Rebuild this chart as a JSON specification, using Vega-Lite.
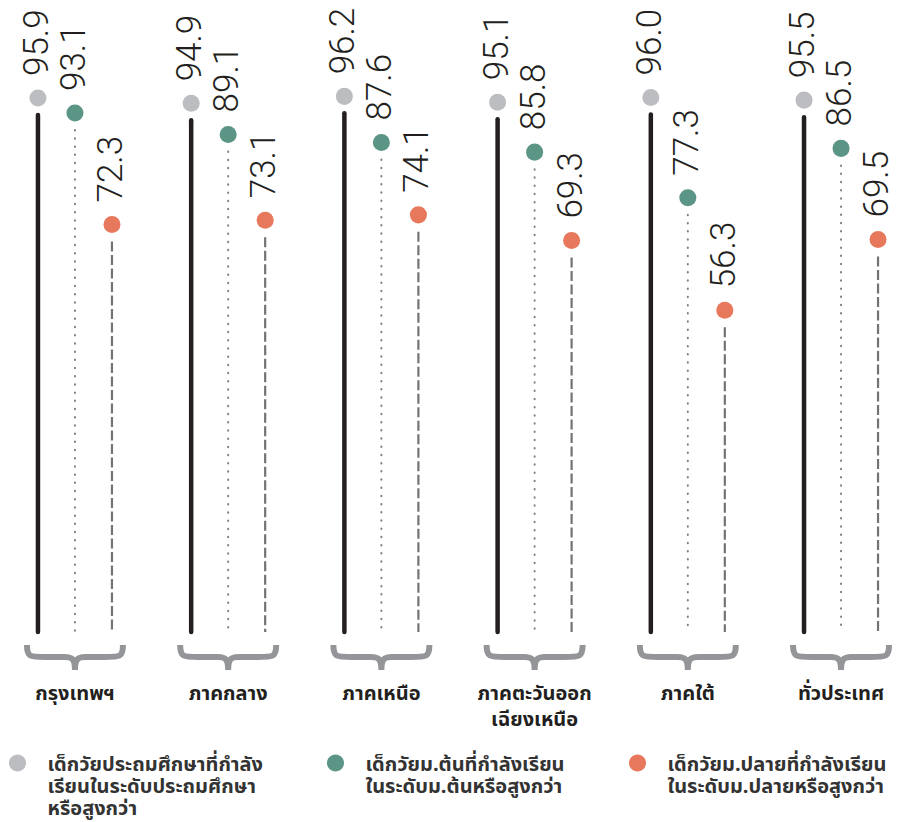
{
  "$schema": "https://vega.github.io/schema/vega-lite/v6.json",
  "width": 916,
  "height": 556,
  "autosize": {"type": "none"},
  "padding": {"left": 0, "top": 76, "right": 0, "bottom": 190},
  "background": "white",
  "config": {
    "view": {"stroke": null},
    "style": {"guide-label": {"lineHeight": 22}}
  },
  "data": {
    "values": [
      {"region": "กรุงเทพฯ", "series": "เด็กวัยประถมศึกษาที่กำลัง เรียนในระดับประถมศึกษา หรือสูงกว่า", "value": 95.9},
      {"region": "กรุงเทพฯ", "series": "เด็กวัยม.ต้นที่กำลังเรียน ในระดับม.ต้นหรือสูงกว่า", "value": 93.1},
      {"region": "กรุงเทพฯ", "series": "เด็กวัยม.ปลายที่กำลังเรียน ในระดับม.ปลายหรือสูงกว่า", "value": 72.3},
      {"region": "ภาคกลาง", "series": "เด็กวัยประถมศึกษาที่กำลัง เรียนในระดับประถมศึกษา หรือสูงกว่า", "value": 94.9},
      {"region": "ภาคกลาง", "series": "เด็กวัยม.ต้นที่กำลังเรียน ในระดับม.ต้นหรือสูงกว่า", "value": 89.1},
      {"region": "ภาคกลาง", "series": "เด็กวัยม.ปลายที่กำลังเรียน ในระดับม.ปลายหรือสูงกว่า", "value": 73.1},
      {"region": "ภาคเหนือ", "series": "เด็กวัยประถมศึกษาที่กำลัง เรียนในระดับประถมศึกษา หรือสูงกว่า", "value": 96.2},
      {"region": "ภาคเหนือ", "series": "เด็กวัยม.ต้นที่กำลังเรียน ในระดับม.ต้นหรือสูงกว่า", "value": 87.6},
      {"region": "ภาคเหนือ", "series": "เด็กวัยม.ปลายที่กำลังเรียน ในระดับม.ปลายหรือสูงกว่า", "value": 74.1},
      {"region": "ภาคตะวันออก เฉียงเหนือ", "series": "เด็กวัยประถมศึกษาที่กำลัง เรียนในระดับประถมศึกษา หรือสูงกว่า", "value": 95.1},
      {"region": "ภาคตะวันออก เฉียงเหนือ", "series": "เด็กวัยม.ต้นที่กำลังเรียน ในระดับม.ต้นหรือสูงกว่า", "value": 85.8},
      {"region": "ภาคตะวันออก เฉียงเหนือ", "series": "เด็กวัยม.ปลายที่กำลังเรียน ในระดับม.ปลายหรือสูงกว่า", "value": 69.3},
      {"region": "ภาคใต้", "series": "เด็กวัยประถมศึกษาที่กำลัง เรียนในระดับประถมศึกษา หรือสูงกว่า", "value": 96.0},
      {"region": "ภาคใต้", "series": "เด็กวัยม.ต้นที่กำลังเรียน ในระดับม.ต้นหรือสูงกว่า", "value": 77.3},
      {"region": "ภาคใต้", "series": "เด็กวัยม.ปลายที่กำลังเรียน ในระดับม.ปลายหรือสูงกว่า", "value": 56.3},
      {"region": "ทั่วประเทศ", "series": "เด็กวัยประถมศึกษาที่กำลัง เรียนในระดับประถมศึกษา หรือสูงกว่า", "value": 95.5},
      {"region": "ทั่วประเทศ", "series": "เด็กวัยม.ต้นที่กำลังเรียน ในระดับม.ต้นหรือสูงกว่า", "value": 86.5},
      {"region": "ทั่วประเทศ", "series": "เด็กวัยม.ปลายที่กำลังเรียน ในระดับม.ปลายหรือสูงกว่า", "value": 69.5}
    ]
  },
  "encoding": {
    "x": {
      "field": "region",
      "type": "nominal",
      "sort": null,
      "scale": {"paddingInner": 0.2755, "paddingOuter": 0.127},
      "axis": {
        "title": null,
        "ticks": false,
        "domain": false,
        "labelAngle": 0,
        "labelPadding": 51,
        "labelBaseline": "top",
        "labelFont": "Noto Sans Thai, Noto Sans, sans-serif",
        "labelFontSize": 20,
        "labelFontWeight": "bold",
        "labelColor": "#231f20",
        "labelLineHeight": 26,
        "labelExpr": "split(datum.label, ' ')"
      }
    }
  },
  "layer": [
    {
      "transform": [{"filter": "indexof(datum.series, 'ประถม') >= 0"}],
      "mark": {"type": "rule", "color": "#231f20", "strokeWidth": 4.5, "strokeCap": "round", "yOffset": 17},
      "encoding": {
        "xOffset": {"field": "series", "type": "nominal", "scale": {"domain": ["เด็กวัยประถมศึกษาที่กำลัง เรียนในระดับประถมศึกษา หรือสูงกว่า", "เด็กวัยม.ต้นที่กำลังเรียน ในระดับม.ต้นหรือสูงกว่า", "เด็กวัยม.ปลายที่กำลังเรียน ในระดับม.ปลายหรือสูงกว่า"], "paddingInner": 0, "paddingOuter": 0}},
        "y": {"field": "value", "type": "quantitative", "scale": {"domain": [-3.7, 100], "nice": false, "zero": false}, "axis": null},
        "y2": {"datum": -3.7}
      }
    },
    {
      "transform": [{"filter": "indexof(datum.series, 'ม.ต้น') >= 0"}],
      "mark": {"type": "rule", "color": "#808080", "strokeWidth": 2, "strokeCap": "round", "strokeDash": [0.5, 7.7], "yOffset": 17},
      "encoding": {
        "xOffset": {"field": "series", "type": "nominal"},
        "y": {"field": "value", "type": "quantitative"},
        "y2": {"datum": -3.7}
      }
    },
    {
      "transform": [{"filter": "indexof(datum.series, 'ม.ปลาย') >= 0"}],
      "mark": {"type": "rule", "color": "#737373", "strokeWidth": 2.2, "strokeDash": [10, 3.5], "yOffset": 17},
      "encoding": {
        "xOffset": {"field": "series", "type": "nominal"},
        "y": {"field": "value", "type": "quantitative"},
        "y2": {"datum": -3.7}
      }
    },
    {
      "mark": {"type": "point", "filled": true, "opacity": 1, "size": 290, "shape": "circle", "strokeWidth": 0},
      "encoding": {
        "xOffset": {"field": "series", "type": "nominal"},
        "y": {"field": "value", "type": "quantitative"},
        "color": {
          "field": "series",
          "type": "nominal",
          "scale": {
            "domain": [
              "เด็กวัยประถมศึกษาที่กำลัง เรียนในระดับประถมศึกษา หรือสูงกว่า",
              "เด็กวัยม.ต้นที่กำลังเรียน ในระดับม.ต้นหรือสูงกว่า",
              "เด็กวัยม.ปลายที่กำลังเรียน ในระดับม.ปลายหรือสูงกว่า"
            ],
            "range": ["#bcbdc1", "#5a9585", "#e8785c"]
          },
          "legend": {
            "title": null,
            "orient": "none",
            "legendX": 7.5,
            "legendY": 669,
            "direction": "horizontal",
            "columns": 3,
            "columnPadding": 62,
            "symbolType": "M -1 0.95 A 1 1 0 1 1 1 0.95 A 1 1 0 1 1 -1 0.95 Z",
            "symbolSize": 290,
            "symbolStrokeWidth": 0,
            "symbolOpacity": 1,
            "labelFont": "Noto Sans Thai, Noto Sans, sans-serif",
            "labelFontSize": 20,
            "labelFontWeight": "bold",
            "labelColor": "#333333",
            "labelLimit": 0,
            "labelBaseline": "top",
            "labelOffset": 20,
            "labelExpr": "length(split(datum.label, ' ')) < 3 ? split(datum.label + ' ', ' ') : split(datum.label, ' ')"
          }
        }
      }
    },
    {
      "mark": {"type": "text", "angle": 270, "align": "left", "baseline": "middle", "dx": 22, "dy": -1, "font": "Roboto", "fontWeight": 300, "fontSize": 35, "color": "#231f20"},
      "encoding": {
        "xOffset": {"field": "series", "type": "nominal"},
        "y": {"field": "value", "type": "quantitative"},
        "text": {"field": "value", "type": "quantitative", "format": ".1f"}
      }
    },
    {
      "transform": [{"filter": "indexof(datum.series, 'ม.ต้น') >= 0"}],
      "mark": {
        "type": "point",
        "shape": "M -1 -0.25 C -1 0 -0.95 0 -0.6 0 L -0.22 0 C -0.05 0 0 0.05 0 0.27 C 0 0.05 0.05 0 0.22 0 L 0.6 0 C 0.95 0 1 0 1 -0.25",
        "filled": false,
        "size": 9216,
        "stroke": "#939598",
        "strokeWidth": 6,
        "opacity": 1,
        "yOffset": 25
      },
      "encoding": {
        "y": {"datum": -3.7}
      }
    }
  ]
}
